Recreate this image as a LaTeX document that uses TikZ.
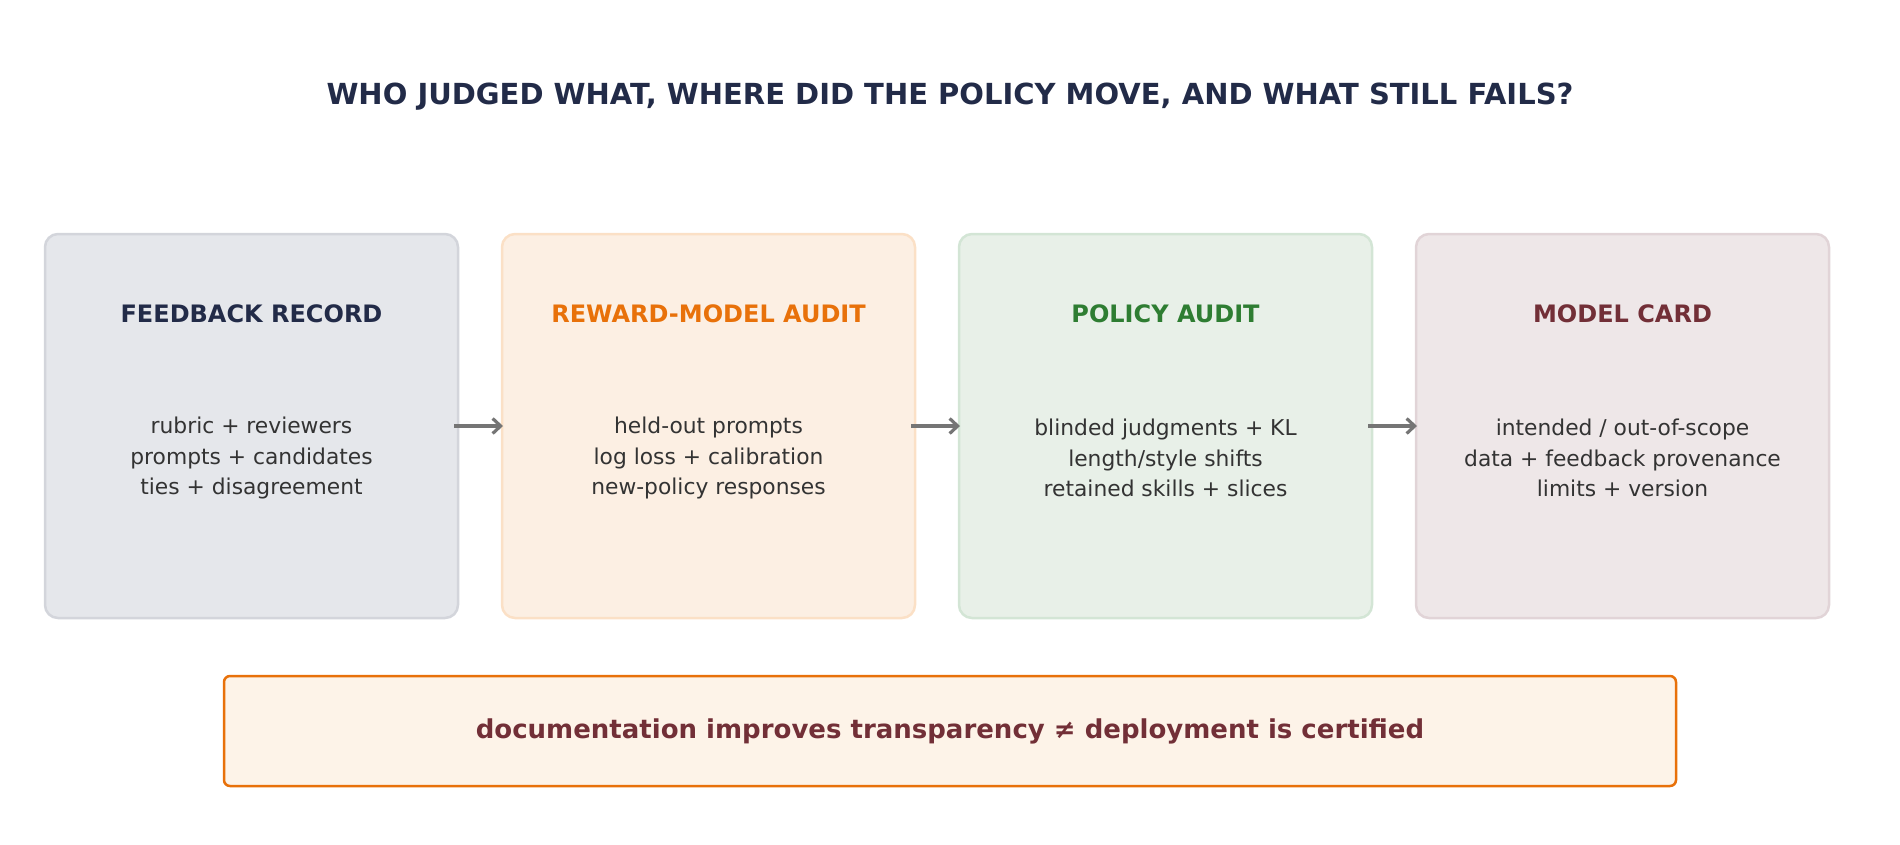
\documentclass[tikz,border=0pt]{standalone}
\usepackage{fontspec}
\setmainfont{DejaVu Sans}
\usetikzlibrary{positioning,arrows.meta}
\definecolor{navy}{HTML}{222B48}
\definecolor{ink}{HTML}{333333}
\definecolor{arrowgray}{HTML}{757575}
\definecolor{orange}{HTML}{E8710A}
\definecolor{green}{HTML}{2E7D32}
\definecolor{maroon}{HTML}{722F37}
\definecolor{fbfill}{HTML}{E5E7EB}
\definecolor{fbline}{HTML}{D3D5DB}
\definecolor{rmfill}{HTML}{FCEFE3}
\definecolor{rmline}{HTML}{FBE0C6}
\definecolor{pafill}{HTML}{E8F0E8}
\definecolor{paline}{HTML}{D3E5D5}
\definecolor{mcfill}{HTML}{EEE7E8}
\definecolor{mcline}{HTML}{E1D4D7}
\definecolor{notefill}{HTML}{FDF3E8}
\tikzset{
  card/.style={draw=#1line, fill=#1fill, line width=2.5pt, rounded corners=13pt,
    minimum width=413pt, minimum height=384pt, inner sep=0pt, outer sep=0pt},
  head/.style={font=\fontsize{24}{28}\selectfont\bfseries, text=#1},
  body/.style={font=\fontsize{21.8}{30.5}\selectfont, text=ink, align=center},
  flow/.style={draw=arrowgray, line width=3.2pt, -{Straight Barb[length=8pt,width=15pt]}},
}

\begin{document}
\begin{tikzpicture}[x=1pt,y=-1pt]
  \useasboundingbox (0,0) rectangle (1900,844);
  \node[font=\fontsize{29}{33}\selectfont\bfseries, text=navy] (title) at (950,96.5)
    {WHO JUDGED WHAT, WHERE DID THE POLICY MOVE, AND WHAT STILL FAILS?};
  % the four stages
  \node[card=fb] (fb) at (251.5,426) {};
  \node[card=rm, right=44pt of fb] (rm) {};
  \node[card=pa, right=44pt of rm] (pa) {};
  \node[card=mc, right=44pt of pa] (mc) {};
  \node[head=navy] (fbt) at ([yshift=-80pt]fb.north) {FEEDBACK RECORD};
  \node[head=orange] (rmt) at ([yshift=-80pt]rm.north) {REWARD-MODEL AUDIT};
  \node[head=green] (pat) at ([yshift=-80pt]pa.north) {POLICY AUDIT};
  \node[head=maroon] (mct) at ([yshift=-80pt]mc.north) {MODEL CARD};
  \node[body] (fbb) at ([yshift=-32pt]fb.center)
    {rubric + reviewers\\prompts + candidates\\ties + disagreement};
  \node[body] (rmb) at ([yshift=-32pt]rm.center)
    {held-out prompts\\log loss + calibration\\new-policy responses};
  \node[body] (pab) at ([yshift=-32pt]pa.center)
    {blinded judgments + KL\\length/style shifts\\retained skills + slices};
  \node[body] (mcb) at ([yshift=-32pt]mc.center)
    {intended / out-of-scope\\data + feedback provenance\\limits + version};
  \draw[flow] ([xshift=-4pt]fb.east) -- ([xshift=1pt]rm.west);
  \draw[flow] ([xshift=-4pt]rm.east) -- ([xshift=1pt]pa.west);
  \draw[flow] ([xshift=-4pt]pa.east) -- ([xshift=1pt]mc.west);
  % caveat
  \node[draw=orange, fill=notefill, line width=2.5pt, rounded corners=6pt,
    minimum width=1452pt, minimum height=110pt, text=maroon,
    font=\fontsize{26}{30}\selectfont\bfseries] (note) at (950,731)
    {documentation improves transparency ≠ deployment is certified};
\end{tikzpicture}
\end{document}
